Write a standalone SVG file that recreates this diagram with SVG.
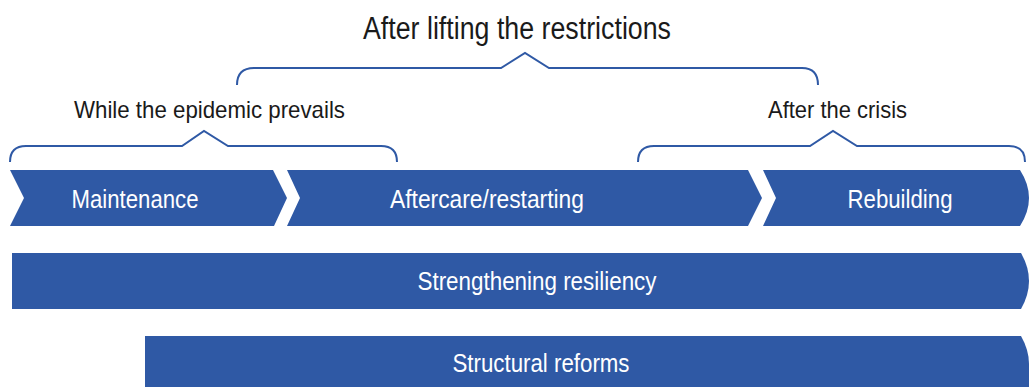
<svg xmlns="http://www.w3.org/2000/svg" width="1029" height="387" viewBox="0 0 1029 387">
<style>
.shape{fill:#2f59a5}
.brace{fill:none;stroke:#2f59a5;stroke-width:2;stroke-linejoin:miter}
.lbl{font-family:"Liberation Sans",Arial,sans-serif;fill:#1a1a1a}
.in{font-family:"Liberation Sans",Arial,sans-serif;fill:#ffffff;text-anchor:middle}
</style>
<rect width="1029" height="387" fill="#ffffff"/>
<g id="connectors">
<path id="brace-top" class="brace" d="M237,85 Q237,68 254,68 L501,68 L525,53 L549,68 L802,68 Q818,68 818,85"/>
<path id="brace-left" class="brace" d="M10,162 Q10,146 26,146 L182,146 L204,131 L228,146 L381,146 Q397,146 397,162"/>
<path id="brace-right" class="brace" d="M638,162 Q638,146 654,146 L810,146 L833,131 L857,146 L1009,146 Q1025,146 1025,162"/>
</g>
<g id="label-top"><text class="lbl" x="363" y="39" font-size="31" textLength="308" lengthAdjust="spacingAndGlyphs">After lifting the restrictions</text></g>
<g id="label-left"><text class="lbl" x="74" y="118" font-size="24" textLength="271" lengthAdjust="spacingAndGlyphs">While the epidemic prevails</text></g>
<g id="label-right"><text class="lbl" x="768" y="118" font-size="24" textLength="139" lengthAdjust="spacingAndGlyphs">After the crisis</text></g>
<g id="maintenance">
<polygon class="shape" points="10,170 273,170 287,198 274,226 10,226 24,198"/>
<text class="in" x="135" y="208" font-size="26" textLength="127" lengthAdjust="spacingAndGlyphs">Maintenance</text>
</g>
<g id="aftercare">
<polygon class="shape" points="287,170 748,170 762,198 748,226 287,226 300,198"/>
<text class="in" x="487" y="208" font-size="26" textLength="194" lengthAdjust="spacingAndGlyphs">Aftercare/restarting</text>
</g>
<g id="rebuilding">
<path class="shape" d="M763,170 L1020,170 Q1029,184 1029,198 Q1029,212 1020,226 L763,226 L776,198 Z"/>
<text class="in" x="900" y="208" font-size="26" textLength="105" lengthAdjust="spacingAndGlyphs">Rebuilding</text>
</g>
<g id="strengthening">
<path class="shape" d="M12,253 L1021,253 Q1029,267 1029,281 Q1029,295 1021,309 L12,309 Z"/>
<text class="in" x="537" y="290" font-size="26" textLength="239" lengthAdjust="spacingAndGlyphs">Strengthening resiliency</text>
</g>
<g id="structural">
<path class="shape" d="M145,336 L1021,336 Q1029,350 1029,364 L1029,387 L145,387 Z"/>
<text class="in" x="541" y="372" font-size="26" textLength="177" lengthAdjust="spacingAndGlyphs">Structural reforms</text>
</g>
</svg>
